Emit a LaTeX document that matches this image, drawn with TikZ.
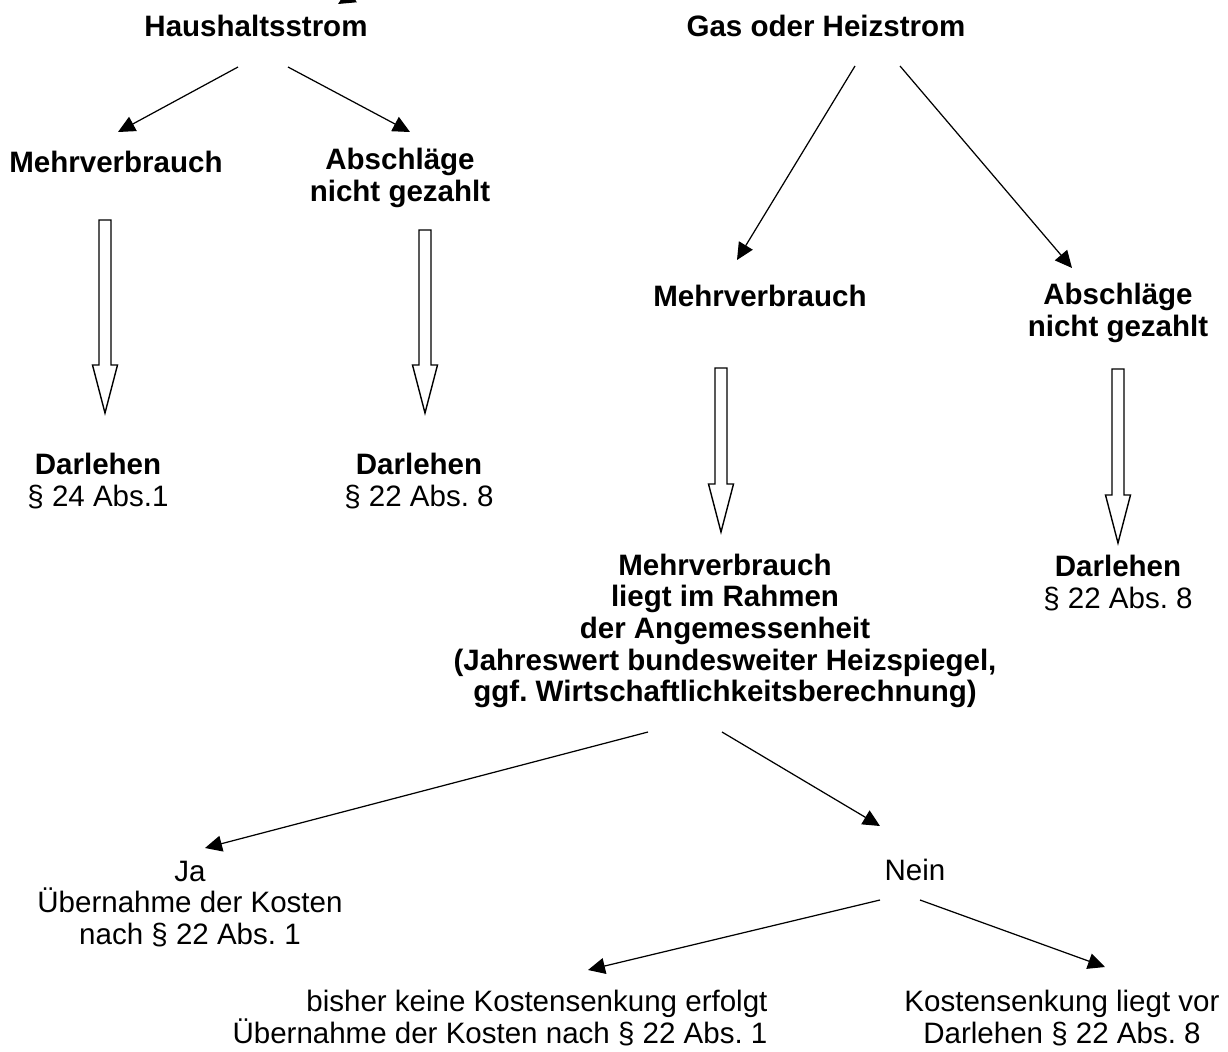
\documentclass[tikz,border=0pt]{standalone}
\usepackage{fontspec}
\setmainfont{Liberation Sans}
\usetikzlibrary{arrows.meta}
\frenchspacing
\tikzset{
  head/.style={font=\bfseries\fontsize{16.8}{18}\selectfont, align=center, inner sep=0pt},
  plain/.style={font=\fontsize{16.8}{18}\selectfont, align=center, inner sep=0pt},
  arr/.style={-{Triangle[length=0.34cm,width=0.32cm]}, line width=0.7pt},
}
% hollow down arrow: x, top, tip
\newcommand{\hollowarrow}[3]{%
  \draw[line width=0.8pt, fill=white] (#1-6,#2) -- (#1+6,#2) -- (#1+6,#3-48)
    -- (#1+12.5,#3-48) -- (#1,#3) -- (#1-12.5,#3-48) -- (#1-6,#3-48) -- cycle;}
\begin{document}
\begin{tikzpicture}[x=0.02cm, y=-0.02cm]
  \clip (0,0) rectangle (1228,1052);
  \fill[white] (0,0) rectangle (1228,1052);
  % top level
  \node[head] (haus) at (256,26) {Haushaltsstrom};
  \node[head] (gas) at (826,26) {Gas oder Heizstrom};
  \coordinate (above) at (420,-45);
  \coordinate (hausin) at (338,4);
  \draw[arr] (above) -- (hausin);
  % Haushaltsstrom
  \node[head] (mvl) at (116,162) {Mehrverbrauch};
  \node[head] (absl) at (400,178) {Abschläge\\nicht gezahlt};
  \draw[arr] ([shift={(-18,41)}]haus.center) -- ([shift={(2,-30)}]mvl.center);
  \draw[arr] ([shift={(32,41)}]haus.center) -- ([shift={(10,-46)}]absl.center);
  \hollowarrow{105}{220}{413}
  \hollowarrow{425}{230}{413}
  \node[plain] (darl1) at (98,481) {\textbf{Darlehen}\\§ 24 Abs.1};
  \node[plain] (darl2) at (419,481) {\textbf{Darlehen}\\§ 22 Abs. 8};
  % Gas oder Heizstrom
  \node[head] (mvr) at (760,296) {Mehrverbrauch};
  \node[head] (absr) at (1118,313) {Abschläge\\nicht gezahlt};
  \draw[arr] ([shift={(29,40)}]gas.center) -- ([shift={(-23,-36)}]mvr.center);
  \draw[arr] ([shift={(74,40)}]gas.center) -- ([shift={(-46,-45)}]absr.center);
  \hollowarrow{721}{368}{532}
  \hollowarrow{1118}{369}{543}
  \node[head] (angem) at (725,631) {Mehrverbrauch\\liegt im Rahmen\\der Angemessenheit\\(Jahreswert bundesweiter Heizspiegel,\\ggf. Wirtschaftlichkeitsberechnung)};
  \node[plain] (darl3) at (1118,583) {\textbf{Darlehen}\\§ 22 Abs. 8};
  % Ja / Nein
  \node[plain] (ja) at (190,904) {Ja\\Übernahme der Kosten\\nach § 22 Abs. 1};
  \node[plain] (nein) at (915,870) {Nein};
  \draw[arr] ([shift={(-77,101)}]angem.center) -- ([shift={(15,-56)}]ja.center);
  \draw[arr] ([shift={(-3,101)}]angem.center) -- ([shift={(-35,-44)}]nein.center);
  \node[plain, align=right] (bisher) at (500,1018) {bisher keine Kostensenkung erfolgt\\Übernahme der Kosten nach § 22 Abs. 1};
  \node[plain] (senk) at (1062,1018) {Kostensenkung liegt vor\\Darlehen § 22 Abs. 8};
  \draw[arr] ([shift={(-35,30)}]nein.center) -- ([shift={(88,-48)}]bisher.center);
  \draw[arr] ([shift={(5,30)}]nein.center) -- ([shift={(43,-51)}]senk.center);
\end{tikzpicture}
\end{document}
